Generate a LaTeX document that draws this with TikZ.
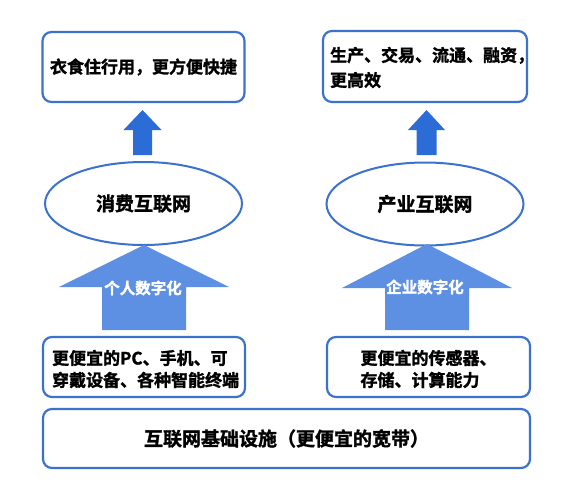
\documentclass[tikz,border=0pt]{standalone}
\usepackage{fontspec}
\newfontfamily\cjk{Noto Sans CJK SC}[BoldFont={Noto Sans CJK SC Bold}, BoldFeatures={FakeBold=1.6}]
\usetikzlibrary{shapes.geometric,positioning,calc}

\definecolor{boxblue}{RGB}{58,114,205}
\definecolor{darkarrow}{RGB}{44,108,214}
\definecolor{lightarrow}{RGB}{93,143,226}

% upward block arrow: colour, centre x, bottom y, tip y, head base y, half shaft, half head
\newcommand{\upblock}[7]{%
  \fill[#1] (#2-#6,#3) -- (#2-#6,#5) -- (#2-#7,#5) -- (#2,#4) --
            (#2+#7,#5) -- (#2+#6,#5) -- (#2+#6,#3) -- cycle;}

\begin{document}
\begin{tikzpicture}[
    x=1pt, y=-1pt,
    node font=\cjk\bfseries,
    roundbox/.style={draw=boxblue, line width=2.2pt, rounded corners=9pt,
                     fill=white, inner sep=0pt},
    netellipse/.style={ellipse, draw=boxblue, line width=2pt, inner sep=0pt,
                       minimum width=197pt, minimum height=83pt,
                       font=\cjk\bfseries\fontsize{19}{22}\selectfont},
    boxtext/.style={font=\cjk\bfseries\fontsize{17}{22}\selectfont, inner sep=0pt},
    arrowtext/.style={font=\cjk\bfseries\fontsize{15.5}{18}\selectfont, text=white, inner sep=0pt},
]
\useasboundingbox (0,0) rectangle (575,487);

% === Top boxes ===
\node[roundbox, minimum width=202pt, minimum height=70pt] (life) at (143.5,67) {};
\node[boxtext] (lifetext) at (life.center) {衣食住行用，更方便快捷};

\node[roundbox, minimum width=204pt, minimum height=71pt] (trade) at (425,66.5) {};
\node[boxtext, anchor=west, align=left, font=\cjk\bfseries\fontsize{17}{25}\selectfont]
    (tradetext) at ($(trade.west)+(8,1)$) {生产、交易、流通、融资，\\更高效};

% === Networks ===
\node[netellipse] (consumer) at (143.5,203.5) {消费互联网};
\node[netellipse] (industry) at (425,204) {产业互联网};

% Small arrows up to the outcomes
\upblock{darkarrow}{142.5}{155}{110}{130}{9.5}{19}
\upblock{darkarrow}{426.5}{155}{110}{130}{10}{18.5}

% Big arrows up to the networks
\upblock{lightarrow}{144}{330}{245}{287}{42}{85}
\upblock{lightarrow}{427}{330}{244}{288}{42}{85}
\node[arrowtext] (personal) at (143,288) {个人数字化};
\node[arrowtext] (enterprise) at (425,287) {企业数字化};

% === Bottom boxes ===
\node[roundbox, minimum width=202pt, minimum height=60pt] (devices) at (144,367) {};
\node[boxtext, anchor=west, align=left] (devicestext) at ($(devices.west)+(10,2)$)
    {更便宜的PC、手机、可\\穿戴设备、各种智能终端};

\node[roundbox, minimum width=203pt, minimum height=60pt] (sensors) at (428.5,367) {};
\node[boxtext, align=left] (sensorstext) at ($(sensors.center)+(0,2)$)
    {更便宜的传感器、\\存储、计算能力};

% Infrastructure
\node[roundbox, minimum width=487pt, minimum height=59pt] (base) at (286.5,438.5) {};
\node[boxtext, font=\cjk\bfseries\fontsize{19}{22}\selectfont] (basetext) at (base.center)
    {互联网基础设施（更便宜的宽带）};

\end{tikzpicture}
\end{document}
